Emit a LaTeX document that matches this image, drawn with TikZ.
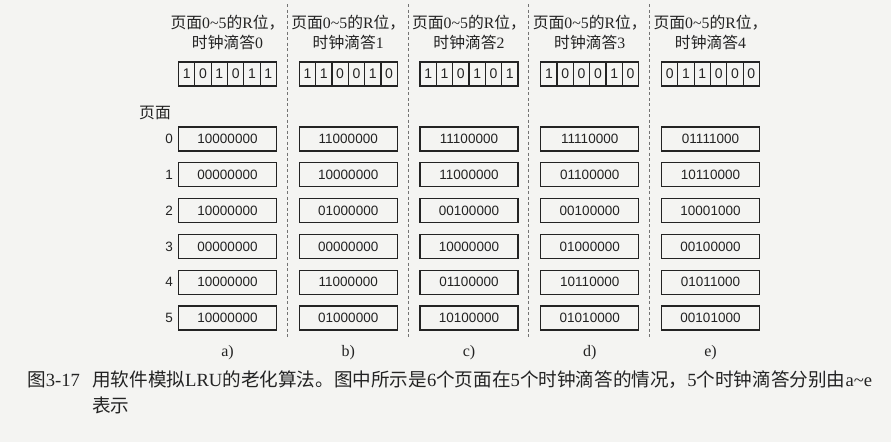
\documentclass[tikz,border=0pt]{standalone}
\usepackage{fontspec}
\setmainfont{Liberation Serif}
\setsansfont{Liberation Sans}
\newfontfamily\cjk{Noto Sans CJK SC}
\definecolor{paper}{RGB}{244,244,242}
\definecolor{inkc}{RGB}{35,35,35}
\begin{document}
\begin{tikzpicture}[x=1pt,y=-1pt,
  ink/.style={draw=inkc, line width=1.2pt},
  counter/.style={ink, minimum width=98pt, minimum height=24pt, inner sep=0pt,
    font=\sffamily\fontsize{13.5}{13.5}\selectfont, text=inkc},
  rbit/.style={ink, minimum width=16.33pt, minimum height=24pt, inner sep=0pt,
    font=\sffamily\fontsize{14}{14}\selectfont, text=inkc},
  header/.style={align=center, inner sep=0pt, font=\fontsize{15.8}{20}\selectfont, text=inkc},
  sublabel/.style={inner sep=0pt, font=\fontsize{16}{16}\selectfont, text=inkc},
  pagenum/.style={inner sep=0pt, anchor=east, font=\sffamily\fontsize{13.5}{13.5}\selectfont, text=inkc},
  caption/.style={inner sep=0pt, anchor=west, font=\fontsize{18.6}{18.6}\selectfont, text=inkc},
  sep/.style={draw=black!55, dash pattern=on 3pt off 2.5pt, line width=0.7pt}
]
% page background
\fill[paper] (0,0) rectangle (891,442);
\useasboundingbox (0,0) rectangle (891,442);

% dashed separators between the clock ticks
\foreach \k/\x in {1/287.5,2/408,3/528.5,4/649.5}{
  \coordinate (sept\k) at (\x,4);
  \coordinate (sepb\k) at (\x,338);
  \draw[sep] (sept\k) -- (sepb\k);
}

% row captions on the left
\node[header] (pagehdr) at (155,113) {\cjk 页面};
\foreach \r in {0,...,5}{
  \node[pagenum] (pn\r) at (173,{139+35.8*\r}) {\r};
}

% one column per clock tick: header, R bits, counters, label
\foreach \c/\tick/\rbits/\ctrs/\lab in {
  0/0/{1,0,1,0,1,1}/{10000000,00000000,10000000,00000000,10000000,10000000}/a),
  1/1/{1,1,0,0,1,0}/{11000000,10000000,01000000,00000000,11000000,01000000}/b),
  2/2/{1,1,0,1,0,1}/{11100000,11000000,00100000,10000000,01100000,10100000}/c),
  3/3/{1,0,0,0,1,0}/{11110000,01100000,00100000,01000000,10110000,01010000}/d),
  4/4/{0,1,1,0,0,0}/{01111000,10110000,10001000,00100000,01011000,00101000}/e)}{
  \pgfmathsetmacro{\cx}{227.5+120.75*\c}
  \node[header] (hdr\c) at (\cx,32.5)
    {{\cjk 页面}0\textasciitilde5{\cjk 的}R{\cjk 位，}\\{\cjk 时钟滴答}\tick};
  \foreach \b [count=\i from 0] in \rbits {
    \node[rbit] (r\c-\i) at ({\cx-40.83+16.33*\i},74) {\b};
  }
  \foreach \v [count=\r from 0] in \ctrs {
    \node[counter] (ctr\c-\r) at (\cx,{139+35.8*\r}) {\v};
  }
  \node[sublabel] (lab\c) at (\cx,353) {\lab};
}

% figure caption
\node[caption] (capnum) at (27,380) {{\cjk 图}3-17};
\node[caption] (capl1) at (92,380)
  {{\cjk 用软件模拟}LRU{\cjk 的老化算法。图中所示是}6{\cjk 个页面在}5{\cjk 个时钟滴答的情况，}5{\cjk 个时钟滴答分别由}a\textasciitilde e};
\node[caption] (capl2) at (92,405) {\cjk 表示};
\end{tikzpicture}
\end{document}
